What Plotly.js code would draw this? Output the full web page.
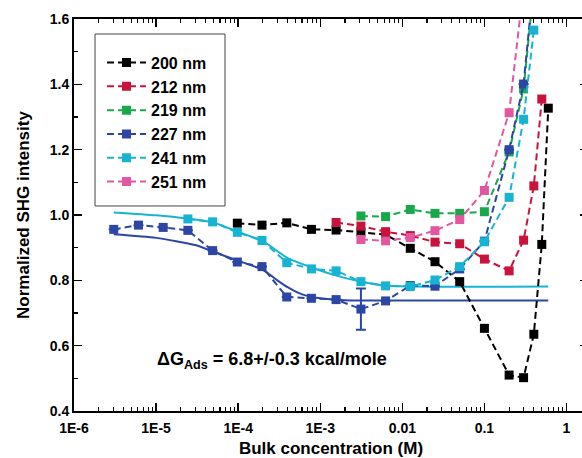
<!DOCTYPE html>
<html>
<head>
<meta charset="utf-8">
<script src="https://cdn.plot.ly/plotly-3.0.1.min.js"></script>
<style>
html, body { margin: 0; padding: 0; overflow: hidden; background: #fff; }
#chart { width: 590px; height: 458px; }
</style>
</head>
<body>
<div id="chart"></div>
<script>
// ---- data ----
const seriesNames = ['200 nm', '212 nm', '219 nm', '227 nm', '241 nm', '251 nm'];
const seriesColors = ['#000000', '#c8143c', '#18a84a', '#2c46a6', '#16b4d2', '#e2579f'];

const x200 = [9.77e-5, 1.95e-4, 3.91e-4, 7.81e-4, 1.56e-3, 3.13e-3, 6.25e-3, 0.0125, 0.025, 0.05, 0.1, 0.2, 0.3, 0.4, 0.5, 0.6];
const y200 = [0.975, 0.969, 0.976, 0.956, 0.954, 0.948, 0.940, 0.898, 0.857, 0.796, 0.653, 0.510, 0.502, 0.635, 0.910, 1.327];

const x212 = [1.56e-3, 3.13e-3, 6.25e-3, 0.0125, 0.025, 0.05, 0.1, 0.2, 0.3, 0.4, 0.5];
const y212 = [0.977, 0.966, 0.949, 0.937, 0.917, 0.912, 0.865, 0.829, 0.923, 1.089, 1.355];

const x219 = [3.13e-3, 6.25e-3, 0.0125, 0.025, 0.05, 0.1, 0.2, 0.3, 0.4];
const y219 = [0.997, 0.995, 1.017, 1.005, 1.005, 1.010, 1.193, 1.386, 1.70];

const x227 = [3.05e-6, 6.1e-6, 1.22e-5, 2.44e-5, 4.88e-5, 9.77e-5, 1.95e-4, 3.91e-4, 7.81e-4, 1.56e-3, 3.13e-3, 6.25e-3, 0.0125, 0.025, 0.05, 0.1, 0.2, 0.3, 0.4];
const y227 = [0.956, 0.969, 0.962, 0.953, 0.891, 0.856, 0.842, 0.749, 0.745, 0.741, 0.712, 0.737, 0.784, 0.782, 0.835, 0.920, 1.200, 1.401, 1.72];
const err227 = [0, 0, 0, 0, 0, 0, 0, 0, 0, 0, 0.063, 0, 0, 0, 0, 0, 0, 0, 0];

const x241 = [2.44e-5, 4.88e-5, 9.77e-5, 1.95e-4, 3.91e-4, 7.81e-4, 1.56e-3, 3.13e-3, 6.25e-3, 0.0125, 0.025, 0.05, 0.1, 0.2, 0.3, 0.4];
const y241 = [0.988, 0.979, 0.947, 0.922, 0.854, 0.835, 0.829, 0.796, 0.783, 0.781, 0.801, 0.842, 0.918, 1.054, 1.293, 1.566];

const x251 = [3.13e-3, 6.25e-3, 0.0125, 0.025, 0.05, 0.1, 0.2, 0.3];
const y251 = [0.925, 0.921, 0.931, 0.952, 0.986, 1.075, 1.313, 1.70];

// Langmuir fit curves (solid lines)
const xFit227 = [3.05e-6, 1e-5, 3e-5, 6e-5, 1e-4, 2e-4, 3e-4, 4e-4, 6e-4, 1e-3, 2e-3, 5e-3, 0.6];
const yFit227 = [0.941, 0.930, 0.908, 0.880, 0.860, 0.832, 0.800, 0.779, 0.757, 0.745, 0.739, 0.738, 0.738];

const xFit241 = [3.05e-6, 1e-5, 2.4e-5, 5e-5, 1e-4, 2e-4, 4e-4, 7e-4, 1.5e-3, 3e-3, 6e-3, 0.0125, 0.6];
const yFit241 = [1.008, 0.999, 0.989, 0.977, 0.948, 0.920, 0.868, 0.844, 0.816, 0.797, 0.784, 0.781, 0.781];

const xTickVals = [1e-6, 1e-5, 1e-4, 1e-3, 0.01, 0.1, 1];
const xTickText = ['1E-6', '1E-5', '1E-4', '1E-3', '0.01', '0.1', '1'];

// minor tick positions of the log axis (2..9 in each decade)
const xMinorTicks = [];
for (let e = -6; e <= 0; e++) {
  for (let m = 2; m <= 9; m++) xMinorTicks.push(m * Math.pow(10, e));
}

// ---- traces ----
const FONT = 'Liberation Sans, Arial, Helvetica, sans-serif';
const traces = [];

traces.push({x: xFit227, y: yFit227, type: 'scatter', mode: 'lines', showlegend: false,
  line: {color: seriesColors[3], width: 2, shape: 'spline', smoothing: 0.6}, hoverinfo: 'skip'});
traces.push({x: xFit241, y: yFit241, type: 'scatter', mode: 'lines', showlegend: false,
  line: {color: seriesColors[4], width: 2, shape: 'spline', smoothing: 0.6}, hoverinfo: 'skip'});

const xs = [x200, x212, x219, x227, x241, x251];
const ys = [y200, y212, y219, y227, y241, y251];
for (let i = 0; i < 6; i++) {
  const t = {
    x: xs[i], y: ys[i], type: 'scatter', mode: 'lines+markers', name: seriesNames[i],
    line: {color: seriesColors[i], width: 2, dash: '7px,4px'},
    marker: {color: seriesColors[i], symbol: 'square', size: 9}
  };
  if (i === 3) {
    t.error_y = {type: 'data', array: err227, visible: true, color: seriesColors[3], thickness: 2, width: 5};
  }
  traces.push(t);
}

// invisible copy of a fit curve that carries the minor-tick axis (x2)
traces.push({x: xFit227, y: yFit227, xaxis: 'x2', yaxis: 'y', type: 'scatter', mode: 'lines',
  line: {width: 0, color: 'rgba(0,0,0,0)'}, opacity: 0, showlegend: false, hoverinfo: 'skip'});

const X_RANGE = [-6, 0.262];

const layout = {
  width: 590, height: 458,
  margin: {l: 74, r: 2, t: 19, b: 47},
  paper_bgcolor: '#ffffff', plot_bgcolor: '#ffffff',
  font: {family: FONT, size: 14, color: '#000', weight: 'bold'},
  showlegend: true,
  xaxis: {
    type: 'log', range: X_RANGE,
    tickmode: 'array', tickvals: xTickVals, ticktext: xTickText,
    ticks: 'inside', ticklen: 8, tickwidth: 1.5, tickcolor: '#000',
    ticklabelstandoff: 3,
    showline: true, linecolor: '#000', linewidth: 2, mirror: 'ticks',
    showgrid: false, zeroline: false,
    tickfont: {family: FONT, size: 14, weight: 'bold'},
    title: {text: 'Bulk concentration (M)', font: {family: FONT, size: 17, weight: 'bold'}, standoff: 8}
  },
  xaxis2: {
    type: 'log', range: X_RANGE, overlaying: 'x', side: 'bottom', anchor: 'y',
    tickmode: 'array', tickvals: xMinorTicks, showticklabels: false,
    ticks: 'inside', ticklen: 4, tickwidth: 1.2, tickcolor: '#000',
    showline: false, mirror: 'ticks', showgrid: false, zeroline: false
  },
  yaxis: {
    range: [0.4, 1.6], dtick: 0.2, tickformat: '.1f',
    ticks: 'inside', ticklen: 8, tickwidth: 1.5, tickcolor: '#000',
    minor: {ticks: 'inside', ticklen: 4, tickwidth: 1.2, tickcolor: '#000', dtick: 0.1, showgrid: false},
    showline: true, linecolor: '#000', linewidth: 2, mirror: 'ticks',
    showgrid: false, zeroline: false,
    tickfont: {family: FONT, size: 14, weight: 'bold'},
    title: {text: 'Normalized SHG intensity', font: {family: FONT, size: 17, weight: 'bold'}, standoff: 16}
  },
  legend: {
    x: 0.0545, y: 0.932, xanchor: 'left', yanchor: 'top',
    bgcolor: 'rgba(0,0,0,0)', borderwidth: 0,
    itemwidth: 39,
    font: {family: FONT, size: 16, weight: 'bold'},
    tracegroupgap: 0
  },
  shapes: [{
    type: 'rect', xref: 'paper', yref: 'paper', layer: 'below',
    x0: 0.0409, x1: 0.2938, y0: 0.523, y1: 0.9617,
    line: {color: '#444', width: 1}, fillcolor: '#ffffff'
  }],
  annotations: [{
    xref: 'paper', yref: 'paper', x: 0.1576, y: 0.128, xanchor: 'left', yanchor: 'middle',
    text: '\u0394G<sub>Ads</sub> = 6.8+/-0.3 kcal/mole', showarrow: false,
    font: {family: FONT, size: 18, weight: 'bold', color: '#000'}
  }]
};

Plotly.newPlot('chart', traces, layout, {displayModeBar: false, staticPlot: true});
</script>
</body>
</html>
